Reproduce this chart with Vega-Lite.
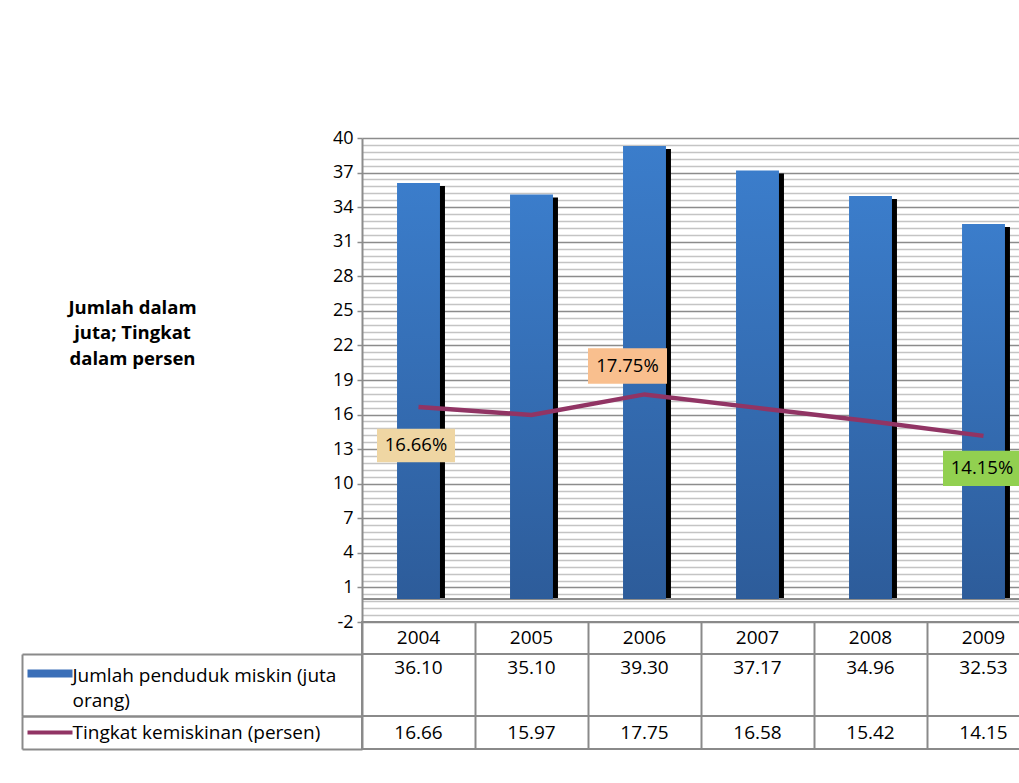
{
  "$schema": "https://vega.github.io/schema/vega-lite/v6.json",
  "padding": {"left": 20, "top": 129, "right": 0, "bottom": 10},
  "background": "white",
  "bounds": "flush",
  "spacing": 0,
  "datasets": {
    "main": [
      {"year": "2004", "jumlah": 36.10, "tingkat": 16.66},
      {"year": "2005", "jumlah": 35.10, "tingkat": 15.97},
      {"year": "2006", "jumlah": 39.30, "tingkat": 17.75},
      {"year": "2007", "jumlah": 37.17, "tingkat": 16.58},
      {"year": "2008", "jumlah": 34.96, "tingkat": 15.42},
      {"year": "2009", "jumlah": 32.53, "tingkat": 14.15}
    ]
  },
  "vconcat": [
    {
      "width": 678,
      "height": 484,
      "view": {"stroke": null},
      "data": {"name": "main"},
      "resolve": {"axis": {"y": "independent"}},
      "layer": [
        {
          "mark": {"type": "bar", "color": "black", "xOffset": 5, "x2Offset": 5, "yOffset": 3},
          "encoding": {
            "x": {"field": "year", "type": "ordinal", "scale": {"paddingInner": 0.62, "paddingOuter": 0.31}, "axis": null},
            "y": {
              "field": "jumlah", "type": "quantitative",
              "scale": {"domain": [-2, 40], "nice": false, "zero": false},
              "axis": {
                "values": [-2, 1, 4, 7, 10, 13, 16, 19, 22, 25, 28, 31, 34, 37, 40],
                "labelExpr": "replace(datum.label, '\u2212', '-')",
                "grid": true, "gridColor": "#8c8c8c", "gridWidth": 1.5,
                "domainColor": "#8c8c8c", "domainWidth": 2,
                "tickColor": "#8c8c8c", "tickSize": 5, "tickWidth": 1.5,
                "labelFontSize": 18, "labelColor": "black", "labelPadding": 4,
                "title": ["Jumlah dalam", "juta; Tingkat", "dalam persen"],
                "titleAngle": 0, "titleX": -230, "titleY": 160,
                "titleAlign": "center", "titleBaseline": "top",
                "titleFontSize": 18.5, "titleFontWeight": "bold", "titleLineHeight": 25.5, "titleColor": "black"
              }
            },
            "y2": {"datum": 0}
          }
        },
        {
          "mark": {"type": "rule", "color": "#8c8c8c", "strokeWidth": 2},
          "encoding": {
            "y": {
              "datum": 0, "type": "quantitative",
              "axis": {
                "orient": "right",
                "values": [-1.4, -0.8, -0.2, 0.4, 1.6, 2.2, 2.8, 3.4, 4.6, 5.2, 5.8, 6.4, 7.6, 8.2, 8.8, 9.4, 10.6, 11.2, 11.8, 12.4, 13.6, 14.2, 14.8, 15.4, 16.6, 17.2, 17.8, 18.4, 19.6, 20.2, 20.8, 21.4, 22.6, 23.2, 23.8, 24.4, 25.6, 26.2, 26.8, 27.4, 28.6, 29.2, 29.8, 30.4, 31.6, 32.2, 32.8, 33.4, 34.6, 35.2, 35.8, 36.4, 37.6, 38.2, 38.8, 39.4],
                "grid": true, "gridColor": "#c4c4c4", "gridWidth": 1.5,
                "labels": false, "ticks": false, "domain": false, "title": null
              }
            }
          }
        },
        {
          "mark": {
            "type": "bar",
            "color": {
              "gradient": "linear", "x1": 0, "y1": 0, "x2": 0, "y2": 1,
              "stops": [{"offset": 0, "color": "#3b7dcb"}, {"offset": 1, "color": "#2d5c9a"}]
            }
          },
          "encoding": {
            "x": {"field": "year", "type": "ordinal", "axis": null},
            "y": {"field": "jumlah", "type": "quantitative", "axis": null},
            "y2": {"datum": 0}
          }
        },
        {
          "mark": {"type": "line", "color": "#913464", "strokeWidth": 4.5},
          "encoding": {
            "x": {"field": "year", "type": "ordinal", "axis": null},
            "y": {"field": "tingkat", "type": "quantitative", "axis": null}
          }
        },
        {
          "transform": [{"filter": "datum.year == '2004'"}],
          "encoding": {
            "x": {"field": "year", "type": "ordinal", "axis": null},
            "y": {"field": "tingkat", "type": "quantitative", "axis": null}
          },
          "layer": [
            {"mark": {"type": "point", "shape": "M-1,-0.43H1V0.43H-1Z", "size": 6084, "filled": true, "color": "#efd6a3", "opacity": 1, "xOffset": -2.5, "yOffset": 38.5}},
            {"mark": {"type": "text", "text": {"expr": "format(datum.tingkat, '.2f') + '%'"}, "fontSize": 18.5, "color": "black", "xOffset": -2.5, "yOffset": 38.5}}
          ]
        },
        {
          "transform": [{"filter": "datum.year == '2006'"}],
          "encoding": {
            "x": {"field": "year", "type": "ordinal", "axis": null},
            "y": {"field": "tingkat", "type": "quantitative", "axis": null}
          },
          "layer": [
            {"mark": {"type": "point", "shape": "M-1,-0.45H1V0.45H-1Z", "size": 6241, "filled": true, "color": "#f9bf8e", "opacity": 1, "xOffset": -17, "yOffset": -28.5}},
            {"mark": {"type": "text", "text": {"expr": "format(datum.tingkat, '.2f') + '%'"}, "fontSize": 18.5, "color": "black", "xOffset": -17, "yOffset": -28.5}}
          ]
        },
        {
          "transform": [{"filter": "datum.year == '2009'"}],
          "encoding": {
            "x": {"field": "year", "type": "ordinal", "axis": null},
            "y": {"field": "tingkat", "type": "quantitative", "axis": null}
          },
          "layer": [
            {"mark": {"type": "point", "shape": "M-1,-0.45H1V0.45H-1Z", "size": 6084, "filled": true, "color": "#92d050", "opacity": 1, "xOffset": -1.5, "yOffset": 32.5}},
            {"mark": {"type": "text", "text": {"expr": "format(datum.tingkat, '.2f') + '%'"}, "fontSize": 18.5, "color": "black", "xOffset": -1.5, "yOffset": 32.5}}
          ]
        }
      ]
    },
    {
      "width": 678,
      "height": 32,
      "data": {"name": "main"},
      "mark": {"type": "text", "fontSize": 19, "color": "black"},
      "encoding": {
        "x": {
          "field": "year", "type": "ordinal",
          "scale": {"paddingInner": 0, "paddingOuter": 0},
          "axis": {"orient": "top", "grid": true, "tickBand": "extent", "labels": false, "ticks": false, "domain": false, "title": null, "gridColor": "#8a8a8a", "gridWidth": 2}
        },
        "text": {"field": "year", "type": "nominal"}
      }
    },
    {
      "width": 678,
      "height": 62,
      "data": {"name": "main"},
      "resolve": {"axis": {"y": "independent"}},
      "layer": [
        {
          "mark": {"type": "text", "fontSize": 19, "dy": -17, "color": "black"},
          "encoding": {
            "x": {
              "field": "year", "type": "ordinal",
              "scale": {"paddingInner": 0, "paddingOuter": 0},
              "axis": {"orient": "top", "grid": true, "tickBand": "extent", "labels": false, "ticks": false, "domain": false, "title": null, "gridColor": "#8a8a8a", "gridWidth": 2}
            },
            "y": {
              "datum": "Jumlah penduduk miskin (juta|orang)", "type": "nominal",
              "scale": {"type": "band", "paddingInner": 0, "paddingOuter": 0},
              "axis": {
                "orient": "left", "offset": 340, "title": null,
                "domainColor": "#8a8a8a", "domainWidth": 2,
                "tickBand": "extent", "tickSize": -340, "tickColor": "#8a8a8a", "tickWidth": 2,
                "labelExpr": "split(datum.label, '|')", "labelAlign": "left", "labelPadding": 290, "labelOffset": -10,
                "labelFontSize": 19, "labelLineHeight": 25, "labelColor": "black", "labelLimit": 0, "labelBaseline": "middle"
              }
            },
            "text": {"field": "jumlah", "type": "quantitative", "format": ".2f"}
          }
        },
        {
          "mark": {"type": "text", "text": ""},
          "encoding": {
            "y": {
              "datum": "Jumlah penduduk miskin (juta|orang)", "type": "nominal",
              "axis": {"orient": "left", "offset": 290, "title": null, "domain": false, "labels": false, "grid": false, "tickBand": "center", "tickSize": 45, "tickWidth": 8, "tickColor": "#3a6fb8", "tickOffset": -12}
            }
          }
        }
      ]
    },
    {
      "width": 678,
      "height": 33,
      "data": {"name": "main"},
      "resolve": {"axis": {"y": "independent"}},
      "layer": [
        {
          "mark": {"type": "text", "fontSize": 19, "color": "black"},
          "encoding": {
            "x": {
              "field": "year", "type": "ordinal",
              "scale": {"paddingInner": 0, "paddingOuter": 0},
              "axis": {"orient": "top", "grid": true, "tickBand": "extent", "labels": false, "ticks": false, "domain": false, "title": null, "gridColor": "#8a8a8a", "gridWidth": 2}
            },
            "y": {
              "datum": "Tingkat kemiskinan (persen)", "type": "nominal",
              "scale": {"type": "band", "paddingInner": 0, "paddingOuter": 0},
              "axis": {
                "orient": "left", "offset": 340, "title": null,
                "domainColor": "#8a8a8a", "domainWidth": 2,
                "tickBand": "extent", "tickSize": -340, "tickColor": "#8a8a8a", "tickWidth": 2,
                "labelExpr": "split(datum.label, '|')", "labelAlign": "left", "labelPadding": 290,
                "labelFontSize": 19, "labelLineHeight": 25, "labelColor": "black", "labelLimit": 0, "labelBaseline": "middle"
              }
            },
            "text": {"field": "tingkat", "type": "quantitative", "format": ".2f"}
          }
        },
        {
          "mark": {"type": "text", "text": ""},
          "encoding": {
            "y": {
              "datum": "Tingkat kemiskinan (persen)", "type": "nominal",
              "axis": {"orient": "left", "offset": 290, "title": null, "domain": false, "labels": false, "grid": false, "tickBand": "center", "tickSize": 45, "tickWidth": 4, "tickColor": "#913464"}
            }
          }
        }
      ]
    }
  ],
  "config": {
    "font": "Open Sans",
    "view": {"stroke": "#8a8a8a", "strokeWidth": 2},
    "axis": {"labelFont": "Open Sans", "titleFont": "Open Sans"}
  }
}
